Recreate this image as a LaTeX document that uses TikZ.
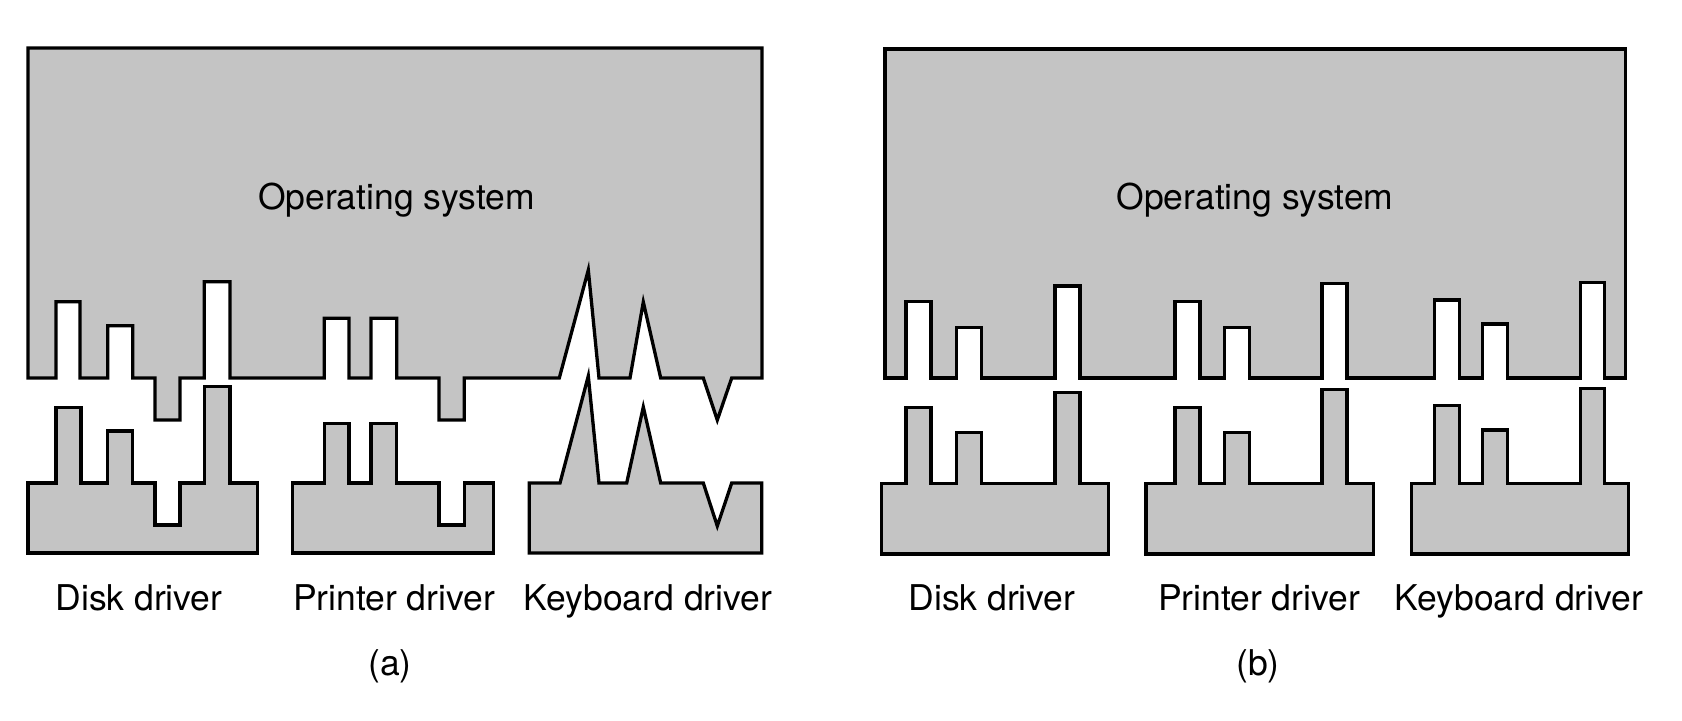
\documentclass[tikz,border=0pt]{standalone}
\usepackage{fontspec}
\setmainfont{TeX Gyre Heros}
\definecolor{osgray}{RGB}{196,196,196}
\tikzset{
  part/.style={draw=black, fill=osgray, line width=1.65pt, line join=miter},
  lbl/.style={anchor=base, inner sep=0pt, font=\fontsize{17.75pt}{21pt}\selectfont}
}
\begin{document}
\begin{tikzpicture}[x=0.5pt, y=-0.5pt]
\useasboundingbox (0,0) rectangle (1682,720);

% ---------- (a) operating system ----------
\draw[part] (28,48) -- (762,48) -- (762,378)
  -- (731.7,378) -- (717.3,420) -- (703.3,378) -- (660.7,378)
  -- (643.3,302) -- (630,378) -- (599,378) -- (588.3,270) -- (559.3,378)
  -- (464.3,378) -- (464.3,420) -- (439,420) -- (439,378)
  -- (396.7,378) -- (396.7,318.3) -- (371,318.3) -- (371,378)
  -- (349,378) -- (349,318.3) -- (324.3,318.3) -- (324.3,378)
  -- (230,378) -- (230,281.7) -- (204.3,281.7) -- (204.3,378)
  -- (180,378) -- (180,420) -- (155,420) -- (155,378)
  -- (132.7,378) -- (132.7,325.7) -- (107.7,325.7) -- (107.7,378)
  -- (80,378) -- (80,301.7) -- (56,301.7) -- (56,378)
  -- (28,378) -- cycle;

% (a) disk driver
\draw[part] (28,553) -- (28,483) -- (56,483) -- (56,407.7) -- (81,407.7) -- (81,483)
  -- (107.7,483) -- (107.7,431) -- (132.7,431) -- (132.7,483)
  -- (155,483) -- (155,525) -- (180,525) -- (180,483)
  -- (204.3,483) -- (204.3,386.7) -- (230,386.7) -- (230,483)
  -- (257.7,483) -- (257.7,553) -- cycle;

% (a) printer driver
\draw[part] (292.7,553) -- (292.7,483) -- (324.3,483) -- (324.3,423.3) -- (349,423.3) -- (349,483)
  -- (371,483) -- (371,423.3) -- (396.7,423.3) -- (396.7,483)
  -- (439,483) -- (439,525) -- (464.3,525) -- (464.3,483)
  -- (493.3,483) -- (493.3,553) -- cycle;

% (a) keyboard driver
\draw[part] (529.3,553) -- (529.3,483) -- (560,483) -- (588.3,376) -- (599,483)
  -- (626.7,483) -- (643.3,407) -- (660.7,483) -- (703.3,483)
  -- (717.3,526) -- (731.7,483) -- (761.7,483) -- (761.7,553) -- cycle;

% ---------- (b) operating system ----------
\draw[part] (885,49) -- (1625.3,49) -- (1625.3,378)
  -- (1604.7,378) -- (1604.7,282.7) -- (1580.3,282.7) -- (1580.3,378)
  -- (1507.7,378) -- (1507.7,324) -- (1482.7,324) -- (1482.7,378)
  -- (1459.7,378) -- (1459.7,300) -- (1434.7,300) -- (1434.7,378)
  -- (1347,378) -- (1347,283.3) -- (1322,283.3) -- (1322,378)
  -- (1249.3,378) -- (1249.3,327.3) -- (1224.3,327.3) -- (1224.3,378)
  -- (1200,378) -- (1200,301.7) -- (1175,301.7) -- (1175,378)
  -- (1080,378) -- (1080,286) -- (1055,286) -- (1055,378)
  -- (981.7,378) -- (981.7,327.3) -- (956.7,327.3) -- (956.7,378)
  -- (931,378) -- (931,301.7) -- (906,301.7) -- (906,378)
  -- (885,378) -- cycle;

% (b) disk driver
\draw[part] (881.7,554) -- (881.7,483.3) -- (906,483.3) -- (906,407.7) -- (931,407.7) -- (931,483.3)
  -- (956.7,483.3) -- (956.7,432.3) -- (981.7,432.3) -- (981.7,483.3)
  -- (1055,483.3) -- (1055,392.7) -- (1080,392.7) -- (1080,483.3)
  -- (1108.3,483.3) -- (1108.3,554) -- cycle;

% (b) printer driver
\draw[part] (1146,554) -- (1146,483.3) -- (1175,483.3) -- (1175,407.7) -- (1200,407.7) -- (1200,483.3)
  -- (1224.3,483.3) -- (1224.3,432.3) -- (1249.3,432.3) -- (1249.3,483.3)
  -- (1322,483.3) -- (1322,389.3) -- (1347,389.3) -- (1347,483.3)
  -- (1373.7,483.3) -- (1373.7,554) -- cycle;

% (b) keyboard driver
\draw[part] (1411.3,554) -- (1411.3,483.3) -- (1434.7,483.3) -- (1434.7,405.7) -- (1459.7,405.7) -- (1459.7,483.3)
  -- (1482.7,483.3) -- (1482.7,430) -- (1507.7,430) -- (1507.7,483.3)
  -- (1580.3,483.3) -- (1580.3,388.3) -- (1604.7,388.3) -- (1604.7,483.3)
  -- (1628.7,483.3) -- (1628.7,554) -- cycle;

% ---------- labels ----------
\node[lbl] (osa) at (396.5,209) {Operating system};
\node[lbl] (osb) at (1255,209) {Operating system};
\node[lbl] (diska) at (139,610) {Disk driver};
\node[lbl] (printa) at (394,610) {Printer driver};
\node[lbl] (keya) at (648,610) {Keyboard driver};
\node[lbl] (diskb) at (992,610) {Disk driver};
\node[lbl] (printb) at (1259,610) {Printer driver};
\node[lbl] (keyb) at (1519,610) {Keyboard driver};
\node[lbl] (capa) at (390,675) {(a)};
\node[lbl] (capb) at (1258,675) {(b)};
\end{tikzpicture}
\end{document}
